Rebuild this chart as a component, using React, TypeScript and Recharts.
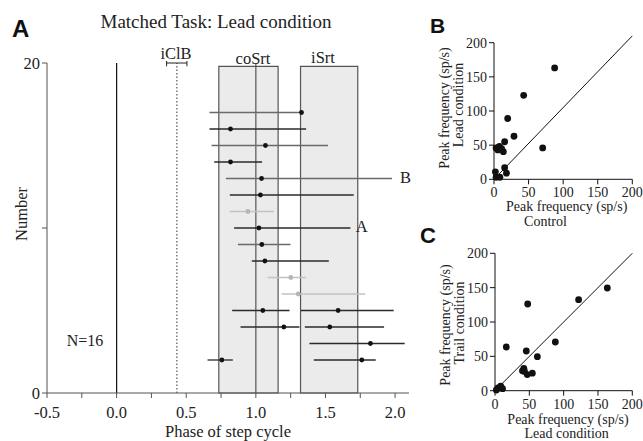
import React from 'react';
import {
  ComposedChart,
  ScatterChart,
  Scatter,
  XAxis,
  YAxis,
  ReferenceLine,
  ReferenceArea,
} from 'recharts';

const SERIF = '"Liberation Serif", "Times New Roman", Times, serif';
const SANS = '"Liberation Sans", Arial, Helvetica, sans-serif';

// ---------- Panel A data ----------
const rowNumber = [17, 16, 15, 14, 13, 12, 11, 10, 9, 8, 7, 6, 5, 4, 3, 2];
const rowTone = ['gray', 'dark', 'gray', 'dark', 'gray', 'dark', 'light', 'dark', 'gray', 'dark', 'light', 'light', 'dark', 'dark', 'dark', 'dark'];
const peak1 = [1.328, 0.818, 1.069, 0.818, 1.041, 1.033, 0.943, 1.022, 1.043, 1.065, 1.251, 1.304, 1.05, 1.201, null, 0.756];
const start1 = [0.667, 0.667, 0.682, 0.701, 0.785, 0.813, 0.813, 0.844, 0.871, 0.971, 1.084, 1.184, 0.83, 0.89, null, 0.653];
const end1 = [1.328, 1.361, 1.519, 1.045, 1.978, 1.703, 1.129, 1.679, 1.249, 1.524, 1.361, 1.785, 1.242, 1.313, null, 0.835];
const row2 = [5, 4, 3, 2];
const peak2 = [1.591, 1.531, 1.823, 1.761];
const start2 = [1.323, 1.352, 1.385, 1.416];
const end2 = [1.99, 1.921, 2.069, 1.861];

const coSrt = [0.734, 1.16];
const iSrt = [1.321, 1.732];
const boxTop = 19.8;
const iClB = [0.359, 0.505];
const iClBLine = 0.433;
const phaseTicks = [-0.5, -0.25, 0, 0.25, 0.5, 0.75, 1, 1.25, 1.5, 1.75, 2];
const numberTicks = [0, 10, 20];

// ---------- Panel B data (Control vs Lead) ----------
const bControl = [87.7, 42.9, 19.8, 28.9, 15.4, 70.4, 3, 8, 5.5, 11, 13.5, 7, 15.4, 18, 2, 3, 8.5];
const bLead = [163, 123, 89, 63, 55, 46, 46, 48, 43, 45, 40.5, 47, 17, 9, 11, 3, 3];

// ---------- Panel C data (Lead vs Trail) ----------
const cLead = [163.6, 121.8, 47.6, 87.9, 16.5, 45.6, 61.7, 42, 40, 43, 47, 54.4, 4.4, 8.3, 11, 2];
const cTrail = [149.5, 132.5, 126.2, 70.9, 63.6, 57.8, 49.5, 32.6, 29, 28, 23.5, 25.5, 4, 6.5, 3, 1];
const freqTicks = [0, 50, 100, 150, 200];

const toneColor: Record<string, string> = { dark: '#2a2a2a', gray: '#6a6a6a', light: '#c2c2c2' };
const dotColor: Record<string, string> = { dark: '#111', gray: '#111', light: '#b5b5b5' };

const phaseRows = rowNumber
  .map((y, i) => ({ y, x: peak1[i], s: start1[i], e: end1[i], tone: rowTone[i] }))
  .filter((r) => r.x !== null);
const phaseRows2 = row2.map((y, i) => ({ y, x: peak2[i], s: start2[i], e: end2[i], tone: 'dark' }));
const allRows = [...phaseRows, ...phaseRows2];

const bData = bControl.map((x, i) => ({ x, y: bLead[i] }));
const cData = cLead.map((x, i) => ({ x, y: cTrail[i] }));

const PhaseDot = (props: any) => (
  <circle cx={props.cx} cy={props.cy} r={2.4} fill={dotColor[props.payload.tone]} />
);
const BigDot = (props: any) => <circle cx={props.cx} cy={props.cy} r={3.4} fill="#111" />;

const fmtPhase = (v: number) =>
  Math.abs(v * 2 - Math.round(v * 2)) < 1e-6 ? v.toFixed(1) : '';

const makeXTick = (size: number, fmt: (v: number) => string) => (props: any) => (
  <text
    x={props.x}
    y={props.y}
    dy="0.71em"
    textAnchor="middle"
    fill="#222"
    fontSize={size}
    fontFamily={SERIF}
    style={{ fontFamily: SERIF }}
  >
    {fmt(props.payload.value)}
  </text>
);
const makeYTick = (size: number, fmt: (v: number) => string) => (props: any) => (
  <text
    x={props.x}
    y={props.y}
    dy="0.355em"
    textAnchor="end"
    fill="#222"
    fontSize={size}
    fontFamily={SERIF}
    style={{ fontFamily: SERIF }}
  >
    {fmt(props.payload.value)}
  </text>
);

const XTickA = makeXTick(16.5, fmtPhase);
const YTickA = makeYTick(16.5, (v) => (v === 10 ? '' : String(v)));
const XTickBC = makeXTick(14, (v) => String(v));
const YTickBC = makeYTick(14, (v) => String(v));

export default function App() {
  return (
    <div style={{ position: 'absolute', left: 0, top: 0, width: 643, height: 441, background: '#fff', fontFamily: SERIF }}>
      {/* Panel A */}
      <div style={{ position: 'absolute', left: 0, top: 0 }}>
        <ComposedChart width={420} height={441} margin={{ top: 63, right: 11, bottom: 0, left: 0 }}>
          <XAxis
            type="number"
            dataKey="x"
            domain={[-0.5, 2.1]}
            ticks={phaseTicks}
            interval={0}
            allowDataOverflow
            height={48}
            stroke="#555"
            tickSize={5}
            tickMargin={8}
            tick={XTickA}
          />
          <YAxis
            type="number"
            dataKey="y"
            domain={[0, 20]}
            ticks={numberTicks}
            interval={0}
            width={47}
            stroke="#555"
            tickSize={5}
            tickMargin={2}
            tick={YTickA}
          />
          <ReferenceArea x1={coSrt[0]} x2={coSrt[1]} y1={0} y2={boxTop} fill="#ebebeb" fillOpacity={1} stroke="#555" strokeWidth={1.2} />
          <ReferenceArea x1={iSrt[0]} x2={iSrt[1]} y1={0} y2={boxTop} fill="#ebebeb" fillOpacity={1} stroke="#555" strokeWidth={1.2} />
          <ReferenceLine x={0} stroke="#111" strokeWidth={1.2} />
          <ReferenceLine x={1} stroke="#555" strokeWidth={1.2} />
          <ReferenceLine x={iClBLine} stroke="#333" strokeWidth={1} strokeDasharray="1.5 2" />
          <ReferenceLine segment={[{ x: iClB[0], y: 20 }, { x: iClB[1], y: 20 }]} stroke="#222" strokeWidth={1} ifOverflow="visible" />
          <ReferenceLine segment={[{ x: iClB[0], y: 20.12 }, { x: iClB[0], y: 19.8 }]} stroke="#222" strokeWidth={1} ifOverflow="visible" />
          <ReferenceLine segment={[{ x: iClB[1], y: 20.12 }, { x: iClB[1], y: 19.8 }]} stroke="#222" strokeWidth={1} ifOverflow="visible" />
          {allRows.map((r, i) => (
            <ReferenceLine
              key={'seg' + i}
              segment={[{ x: r.s, y: r.y }, { x: r.e, y: r.y }]}
              stroke={toneColor[r.tone]}
              strokeWidth={1.3}
              ifOverflow="visible"
            />
          ))}
          <Scatter data={allRows} dataKey="y" shape={PhaseDot} isAnimationActive={false} />
        </ComposedChart>
      </div>

      {/* Panel B */}
      <div style={{ position: 'absolute', left: 420, top: 0 }}>
        <ScatterChart width={223} height={230} margin={{ top: 42.7, right: 10.7, bottom: 0, left: 0 }}>
          <XAxis
            type="number"
            dataKey="x"
            domain={[0, 200]}
            ticks={freqTicks}
            interval={0}
            height={50.7}
            stroke="#111"
            tickSize={5}
            tickMargin={3}
            tick={XTickBC}
          />
          <YAxis
            type="number"
            dataKey="y"
            domain={[0, 200]}
            ticks={freqTicks}
            interval={0}
            width={74}
            stroke="#111"
            tickSize={5}
            tickMargin={2}
            tick={YTickBC}
          />
          <ReferenceLine segment={[{ x: 0, y: 0 }, { x: 200, y: 210 }]} stroke="#111" strokeWidth={1} ifOverflow="visible" />
          <Scatter data={bData} shape={BigDot} isAnimationActive={false} />
        </ScatterChart>
      </div>

      {/* Panel C */}
      <div style={{ position: 'absolute', left: 420, top: 220 }}>
        <ScatterChart width={223} height={221} margin={{ top: 33.3, right: 10.7, bottom: 0, left: 0 }}>
          <XAxis
            type="number"
            dataKey="x"
            domain={[0, 200]}
            ticks={freqTicks}
            interval={0}
            height={50.3}
            stroke="#111"
            tickSize={5}
            tickMargin={3}
            tick={XTickBC}
          />
          <YAxis
            type="number"
            dataKey="y"
            domain={[0, 200]}
            ticks={freqTicks}
            interval={0}
            width={75}
            stroke="#111"
            tickSize={5}
            tickMargin={2}
            tick={YTickBC}
          />
          <ReferenceLine segment={[{ x: 0, y: 0 }, { x: 200, y: 200 }]} stroke="#111" strokeWidth={1} ifOverflow="visible" />
          <Scatter data={cData} shape={BigDot} isAnimationActive={false} />
        </ScatterChart>
      </div>

      {/* Text overlay */}
      <svg width={643} height={441} style={{ position: 'absolute', left: 0, top: 0, pointerEvents: 'none' }}>
        <g fontFamily={SANS} fontWeight="bold" fill="#111" style={{ fontFamily: SANS }}>
          <text x={12} y={37} fontSize={24}>A</text>
          <text x={430} y={33} fontSize={21}>B</text>
          <text x={420} y={243} fontSize={22}>C</text>
        </g>
        <g fill="#222" fontSize={16.5} style={{ fontFamily: SERIF }}>
          <text x={216} y={27.5} fontSize={19} textAnchor="middle">Matched Task: Lead condition</text>
          <text x={176} y={59} textAnchor="middle">iClB</text>
          <text x={253} y={64} textAnchor="middle">coSrt</text>
          <text x={323} y={63} textAnchor="middle">iSrt</text>
          <text x={400} y={182.7}>B</text>
          <text x={355.7} y={232.3}>A</text>
          <text x={66.7} y={345.7} fontSize={16}>N=16</text>
          <text x={228} y={437} textAnchor="middle">Phase of step cycle</text>
          <text x={27} y={214} textAnchor="middle" transform="rotate(-90, 27, 214)">Number</text>
        </g>
        <g fill="#222" fontSize={14} style={{ fontFamily: SERIF }}>
          <text x={566.7} y={211} textAnchor="middle">Peak frequency (sp/s)</text>
          <text x={545.5} y={226} textAnchor="middle">Control</text>
          <text x={449} y={108} textAnchor="middle" transform="rotate(-90, 449, 108)">Peak frequency (sp/s)</text>
          <text x={463} y={105} textAnchor="middle" transform="rotate(-90, 463, 105)">Lead condition</text>
          <text x={568} y={424} textAnchor="middle">Peak frequency (sp/s)</text>
          <text x={566.7} y={438} textAnchor="middle">Lead condition</text>
          <text x={450} y={325} textAnchor="middle" transform="rotate(-90, 450, 325)">Peak frequency (sp/s)</text>
          <text x={464} y={323} textAnchor="middle" transform="rotate(-90, 464, 323)">Trail condition</text>
        </g>
      </svg>
    </div>
  );
}
